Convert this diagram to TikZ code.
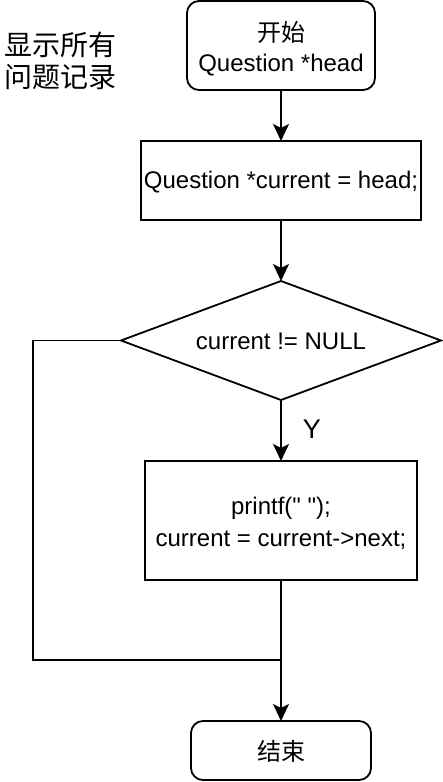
\documentclass[tikz,border=0pt]{standalone}
\usepackage{fontspec}
\setmainfont{Liberation Sans}[Ligatures=TeXOff]
\newfontfamily\cjk{Noto Sans CJK SC}
\usetikzlibrary{shapes.geometric,arrows.meta}
\begin{document}
\begin{tikzpicture}[x=1pt,y=-1pt,
  line width=1.8pt,
  box/.style={draw, rectangle, inner sep=0pt, outer sep=0pt, align=center,
    font=\fontsize{24}{32}\selectfont},
  rbox/.style={box, rounded corners=12pt},
  dia/.style={draw, diamond, shape aspect=2.69, inner sep=0pt, outer sep=0pt, align=center,
    font=\fontsize{24}{32}\selectfont},
  flow/.style={-{Stealth[length=17pt,width=16pt,inset=4pt]}},
  txt/.style={inner sep=0pt, align=center, font=\fontsize{24}{32}\selectfont},
  lbl/.style={font=\fontsize{27}{30}\selectfont, inner sep=0pt}
]
\useasboundingbox (0,0) rectangle (442,782);

\node[font=\fontsize{28}{32}\selectfont\cjk, align=left, anchor=west, inner sep=0pt] (title) at (4,61) {显示所有\\问题记录};

\node[rbox, minimum width=188pt, minimum height=89pt,
  label={[txt, font=\fontsize{24}{29.5}\selectfont, yshift=-3pt]center:{{\cjk 开始}\\Question *head}}] (start) at (281,45.5) {};
\node[box, minimum width=280pt, minimum height=79pt,
  label={[txt, yshift=-1.5pt]center:{Question *current = head;}}] (init) at (281,180.5) {};
\node[dia, minimum width=320pt, minimum height=119pt,
  label={[txt, yshift=-1pt]center:{current != NULL}}] (cond) at (281,340.5) {};
\node[box, minimum width=272pt, minimum height=119pt,
  label={[txt, yshift=-2.5pt]center:{printf(" ");\\current = current->next;}}] (body) at (281,520.5) {};
\node[rbox, minimum width=180pt, minimum height=59pt,
  label={[txt, yshift=-1pt]center:{\cjk 结束}}] (end) at (281,750.5) {};

\coordinate (lc) at (33,660);
\coordinate (join) at (281,660);

\draw[flow] (start) -- (init);
\draw[flow] (init) -- (cond);
\draw[flow] (cond) -- (body);
\node[lbl] (ylab) at (312,429) {Y};
\draw[flow] (body) -- (end);
\draw[line join=miter] (cond.west) -| (lc) -- (join);
\end{tikzpicture}
\end{document}
